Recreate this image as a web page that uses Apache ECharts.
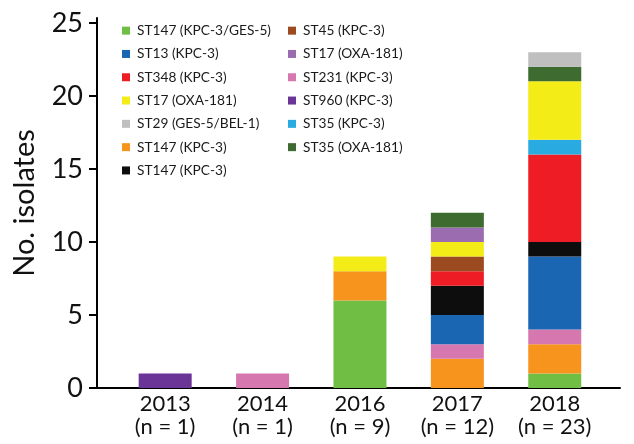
<!DOCTYPE html>
<html>
<head>
<meta charset="UTF-8">
<title>isolates</title>
<script src="https://cdn.jsdelivr.net/npm/echarts@6/dist/echarts.min.js"></script>
<style>
  html, body { margin: 0; padding: 0; background: #fff; }
  #chart { width: 634px; height: 444px; }
</style>
</head>
<body>
<div id="chart"></div>
<script>
  // categories and tick labels
  const years = ['2013', '2014', '2016', '2017', '2018'];
  const nLabels = ['(n = 1)', '(n = 1)', '(n = 9)', '(n = 12)', '(n = 23)'];
  const yTicks = [0, 5, 10, 15, 20, 25];

  // series values per year, stacked bottom to top
  const st147KpcGes = [0, 0, 6, 0, 1];
  const st147KpcOrange = [0, 0, 2, 2, 2];
  const st231 = [0, 1, 0, 1, 1];
  const st13 = [0, 0, 0, 2, 5];
  const st147KpcBlack = [0, 0, 0, 2, 1];
  const st348 = [0, 0, 0, 1, 6];
  const st45 = [0, 0, 0, 1, 0];
  const st35Kpc = [0, 0, 0, 0, 1];
  const st17OxaYellow = [0, 0, 1, 1, 4];
  const st17OxaPurple = [0, 0, 0, 1, 0];
  const st35Oxa = [0, 0, 0, 1, 1];
  const st29 = [0, 0, 0, 0, 1];
  const st960 = [1, 0, 0, 0, 0];

  // name (#n = duplicate label), colour, values
  const seriesDefs = [
    ['ST147 (KPC-3/GES-5)', '#70bf44', st147KpcGes],
    ['ST147 (KPC-3)', '#f7941d', st147KpcOrange],
    ['ST231 (KPC-3)', '#d677b0', st231],
    ['ST13 (KPC-3)', '#1a66b3', st13],
    ['ST147 (KPC-3)#2', '#0d0d0d', st147KpcBlack],
    ['ST348 (KPC-3)', '#ee1c25', st348],
    ['ST45 (KPC-3)', '#9c4a1f', st45],
    ['ST35 (KPC-3)', '#29abe2', st35Kpc],
    ['ST17 (OXA-181)', '#f4ec16', st17OxaYellow],
    ['ST17 (OXA-181)#2', '#9b6cb0', st17OxaPurple],
    ['ST35 (OXA-181)', '#3e6b30', st35Oxa],
    ['ST29 (GES-5/BEL-1)', '#bfbfbf', st29],
    ['ST960 (KPC-3)', '#6a3596', st960]
  ];

  const legendLeft = ['ST147 (KPC-3/GES-5)', 'ST13 (KPC-3)', 'ST348 (KPC-3)', 'ST17 (OXA-181)',
    'ST29 (GES-5/BEL-1)', 'ST147 (KPC-3)', 'ST147 (KPC-3)#2'];
  const legendRight = ['ST45 (KPC-3)', 'ST17 (OXA-181)#2', 'ST231 (KPC-3)', 'ST960 (KPC-3)',
    'ST35 (KPC-3)', 'ST35 (OXA-181)'];

  const FONT = 'Lato';

  const legendCommon = {
    orient: 'vertical',
    top: 18,
    icon: 'rect',
    itemWidth: 8,
    itemHeight: 8,
    itemGap: 8,
    selectedMode: false,
    textStyle: { fontFamily: FONT, fontSize: 13.7, color: '#1a1a1a', lineHeight: 15.3, padding: [0, 0, 0, 2] },
    formatter: function (name) { return name.replace(/#\d$/, ''); }
  };

  const chart = echarts.init(document.getElementById('chart'));
  chart.setOption({
    animation: false,
    grid: { left: 97, right: 14, top: 18, bottom: 56 },
    legend: [
      Object.assign({ left: 117, data: legendLeft }, legendCommon),
      Object.assign({ left: 283, data: legendRight }, legendCommon)
    ],
    xAxis: {
      type: 'value',
      min: -0.70,
      max: 4.67,
      splitLine: { show: false },
      axisLine: { show: true, onZero: false, lineStyle: { color: '#000', width: 2 } },
      axisTick: { show: false },
      axisLabel: {
        customValues: years.map((y, i) => i),
        formatter: function (v) { return years[v] + '\n' + nLabels[v]; },
        fontFamily: FONT, fontSize: 22, color: '#111', lineHeight: 23, margin: 4
      }
    },
    yAxis: {
      type: 'value',
      min: 0,
      max: 25.34,
      name: 'No. isolates',
      nameLocation: 'middle',
      nameGap: 58,
      nameTextStyle: { fontFamily: FONT, fontSize: 29, color: '#111' },
      splitLine: { show: false },
      axisLine: { show: true, onZero: false, lineStyle: { color: '#000', width: 2 } },
      axisTick: { show: true, length: 8, customValues: yTicks, lineStyle: { color: '#000', width: 2 } },
      axisLabel: { customValues: yTicks, fontFamily: FONT, fontSize: 27, color: '#111', margin: 14 }
    },
    series: seriesDefs.map(function (d) {
      return {
        name: d[0],
        type: 'bar',
        stack: 'all',
        barWidth: 53,
        itemStyle: { color: d[1] },
        // value first so the stack is computed on the y dimension
        encode: { x: 1, y: 0 },
        data: d[2].map((v, i) => [v, i])
      };
    })
  });
</script>
</body>
</html>
